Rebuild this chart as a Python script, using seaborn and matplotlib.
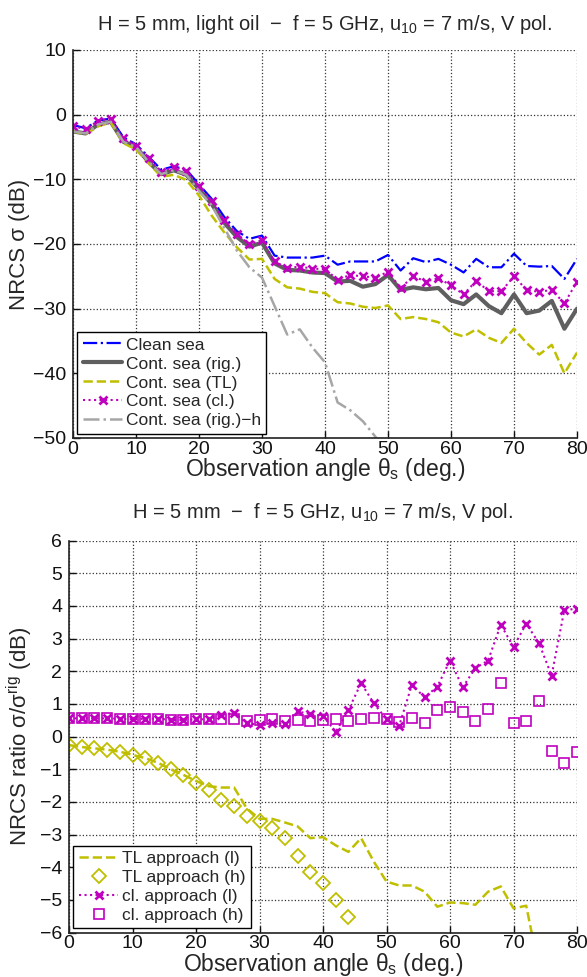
import numpy as np
import matplotlib
matplotlib.use('Agg')
import matplotlib.pyplot as plt
import seaborn as sns

# observation angles (deg), every 2 degrees
angles = np.arange(0, 81, 2)

# top panel: NRCS (dB)
clean_sea = [-1.6, -2.1, -0.9, -0.6, -3.5, -4.6, -6.5, -8.5, -8.0, -8.5,
             -10.8, -13.0, -15.8, -18.0, -19.2, -18.7, -21.8, -22.1, -22.1, -22.1,
             -21.8, -23.2, -22.7, -22.7, -22.7, -21.7, -24.1, -22.2, -22.8, -22.3,
             -23.2, -24.4, -22.3, -23.6, -23.6, -21.5, -23.4, -23.5, -23.4, -25.4, -22.3]
cont_rig = [-2.6, -2.9, -1.5, -1.1, -4.2, -5.0, -7.3, -9.2, -8.6, -9.3,
            -11.5, -13.8, -16.7, -18.9, -20.4, -19.8, -23.0, -24.0, -24.1, -24.4,
            -24.5, -25.8, -25.7, -26.6, -26.2, -24.8, -27.1, -26.7, -27.0, -26.8,
            -28.7, -29.3, -27.8, -29.6, -30.7, -27.8, -30.7, -30.3, -28.8, -33.1, -30.0]
cont_tl = [-2.6, -3.0, -1.8, -1.2, -4.4, -5.4, -7.5, -9.6, -9.3, -10.1,
           -12.5, -15.6, -18.2, -20.5, -22.4, -22.3, -25.4, -26.7, -26.9, -27.4,
           -27.6, -29.0, -29.2, -29.7, -29.9, -29.5, -31.6, -31.3, -31.6, -32.1,
           -33.7, -34.3, -33.2, -34.5, -35.3, -33.1, -35.3, -37.1, -35.6, -40.0, -36.8]
cont_cl = [-1.75, -2.26, -0.93, -0.6, -3.65, -4.8, -6.7, -8.8, -8.1, -8.7,
           -11.1, -13.4, -16.3, -18.5, -20.0, -19.4, -22.7, -23.7, -23.5, -23.8,
           -23.9, -25.5, -24.8, -25.0, -25.2, -24.3, -26.8, -25.0, -25.8, -25.3,
           -26.4, -27.8, -25.7, -27.3, -27.3, -25.0, -27.1, -27.4, -27.1, -29.2, -25.8]
cont_rig_h = [-2.6, -2.9, -1.5, -1.1, -4.2, -5.0, -7.3, -9.2, -8.6, -9.3,
              -11.8, -14.0, -17.5, -21.0, -23.6, -25.2, -29.6, -34.0, -33.2, -36.0,
              -38.3, -44.5, -45.7, -47.4, -49.8, -53.0]

# bottom panel: NRCS ratio (dB)
tl_l = [-0.26, -0.32, -0.36, -0.40, -0.46, -0.56, -0.66, -0.80, -1.00, -1.17,
        -1.36, -1.52, -1.56, -1.56, -2.20, -2.52, -2.52, -2.63, -2.75, -3.11,
        -3.08, -3.33, -3.53, -3.11, -3.83, -4.44, -4.56, -4.56, -4.75, -5.21,
        -5.08, -5.10, -5.15, -4.75, -4.59, -5.26, -5.18, -7.10]
tl_h = [-0.26, -0.32, -0.36, -0.40, -0.46, -0.56, -0.66, -0.80, -1.00, -1.17,
        -1.41, -1.63, -1.93, -2.12, -2.42, -2.58, -2.80, -3.10, -3.66, -4.15,
        -4.49, -5.01, -5.52]
cl_l = [0.56, 0.56, 0.56, 0.56, 0.55, 0.53, 0.55, 0.55, 0.51, 0.51,
        0.53, 0.53, 0.66, 0.73, 0.41, 0.36, 0.43, 0.38, 0.77, 0.69,
        0.64, 0.14, 0.81, 1.64, 1.02, 0.53, 0.33, 1.59, 1.20, 1.53,
        2.33, 1.51, 2.10, 2.33, 3.43, 2.74, 3.46, 2.87, 1.87, 3.87, 3.92]
cl_h = [0.56, 0.56, 0.56, 0.56, 0.55, 0.53, 0.55, 0.55, 0.51, 0.51,
        0.53, 0.53, 0.53, 0.53, 0.49, 0.51, 0.53, 0.49, 0.50, 0.48,
        0.50, 0.53, 0.48, 0.53, 0.58, 0.53, 0.46, 0.56, 0.43, 0.81,
        0.92, 0.74, 0.48, 0.84, 1.64, 0.41, 0.48, 1.08, -0.45, -0.80, -0.48]

sns.set_style('white')
plt.rcParams['font.family'] = ['Liberation Sans', 'DejaVu Sans']
plt.rcParams['mathtext.fontset'] = 'custom'
plt.rcParams['mathtext.rm'] = 'Liberation Sans'
plt.rcParams['mathtext.it'] = 'Liberation Sans:italic'
plt.rcParams['mathtext.sf'] = 'Liberation Sans'

yel = '#bfbf00'
mag = '#bf00bf'

fig = plt.figure(figsize=(5.87, 9.77), dpi=100)
ax1 = fig.add_axes([73/587, 1-438/977, 504/587, 388/977])
ax2 = fig.add_axes([69/587, 1-932.5/977, 508/587, 391.8/977])

leg_kw = dict(loc='lower left', fontsize=12.5, frameon=True, fancybox=False,
              edgecolor='k', framealpha=1, borderaxespad=0.25, handlelength=2.3,
              handletextpad=0.2, labelspacing=0.22, borderpad=0.3, numpoints=1)

# top panel
sns.lineplot(x=angles, y=clean_sea, ax=ax1, color='b', linestyle='-.', lw=1.6,
             estimator=None, label='Clean sea')
sns.lineplot(x=angles, y=cont_rig, ax=ax1, color='#5f5f5f', linestyle='-', lw=3,
             estimator=None, label='Cont. sea (rig.)')
sns.lineplot(x=angles, y=cont_tl, ax=ax1, color=yel, linestyle='--', lw=1.8,
             estimator=None, label='Cont. sea (TL)')
sns.lineplot(x=angles, y=cont_cl, ax=ax1, color=mag, linestyle=':', lw=1.5,
             marker='x', ms=6, mew=2, mec=mag, estimator=None, label='Cont. sea (cl.)')
sns.lineplot(x=angles[:len(cont_rig_h)], y=cont_rig_h, ax=ax1, color='#a6a6a6',
             linestyle='-.', lw=1.8, estimator=None, label='Cont. sea (rig.)\u2212h')
ax1.set_xlim(0, 80)
ax1.set_ylim(-50, 10)
ax1.set_yticks(range(-50, 11, 10))
ax1.legend(**leg_kw)

# bottom panel
sns.lineplot(x=angles[:len(tl_l)], y=tl_l, ax=ax2, color=yel, linestyle='--', lw=1.8,
             estimator=None, label='TL approach (l)')
sns.lineplot(x=angles[:len(tl_h)], y=tl_h, ax=ax2, color=yel, linestyle='none',
             marker='D', ms=7, mew=1.3, mec=yel, mfc='none', estimator=None,
             label='TL approach (h)')
sns.lineplot(x=angles, y=cl_l, ax=ax2, color=mag, linestyle=':', lw=1.5,
             marker='x', ms=6, mew=2, mec=mag, estimator=None, label='cl. approach (l)')
sns.lineplot(x=angles, y=cl_h, ax=ax2, color=mag, linestyle='none',
             marker='s', ms=7, mew=1.2, mec=mag, mfc='none', estimator=None,
             label='cl. approach (h)')
ax2.set_xlim(0, 80)
ax2.set_ylim(-6, 6)
ax2.set_yticks(range(-6, 7, 1))
ax2.legend(**leg_kw)

for ax in (ax1, ax2):
    ax.set_xticks(range(0, 81, 10))
    ax.grid(True, linestyle=':', color='#333333', lw=0.9)
    ax.set_axisbelow(True)
    for s in ('top', 'right'):
        ax.spines[s].set_visible(False)
    for s in ('left', 'bottom'):
        ax.spines[s].set_color('#222222')
        ax.spines[s].set_linewidth(1.2)
    ax.tick_params(direction='in', length=5, width=1, labelsize=14, colors='#111111',
                   left=True, bottom=True, pad=2)
    ax.tick_params(axis='y', pad=5)
    ax.set_xlabel('Observation angle \u03b8$_\\mathrm{s}$ (deg.)', fontsize=16.5, labelpad=-1)

ax1.set_ylabel('NRCS \u03c3 (dB)', fontsize=16)
ax2.set_ylabel('NRCS ratio \u03c3/\u03c3$^\\mathrm{rig}$ (dB)', fontsize=16)
ax1.yaxis.set_label_coords(-0.085, 0.5)
ax2.yaxis.set_label_coords(-0.066, 0.5)

fig.text(325/587, 1-25/977, 'H = 5 mm, light oil  \u2212  f = 5 GHz, u$_{10}$ = 7 m/s, V pol.',
         ha='center', va='center', fontsize=14.5)
fig.text(323/587, 1-513/977, 'H = 5 mm  \u2212  f = 5 GHz, u$_{10}$ = 7 m/s, V pol.',
         ha='center', va='center', fontsize=14.5)

fig.savefig('out.png', dpi=100)
